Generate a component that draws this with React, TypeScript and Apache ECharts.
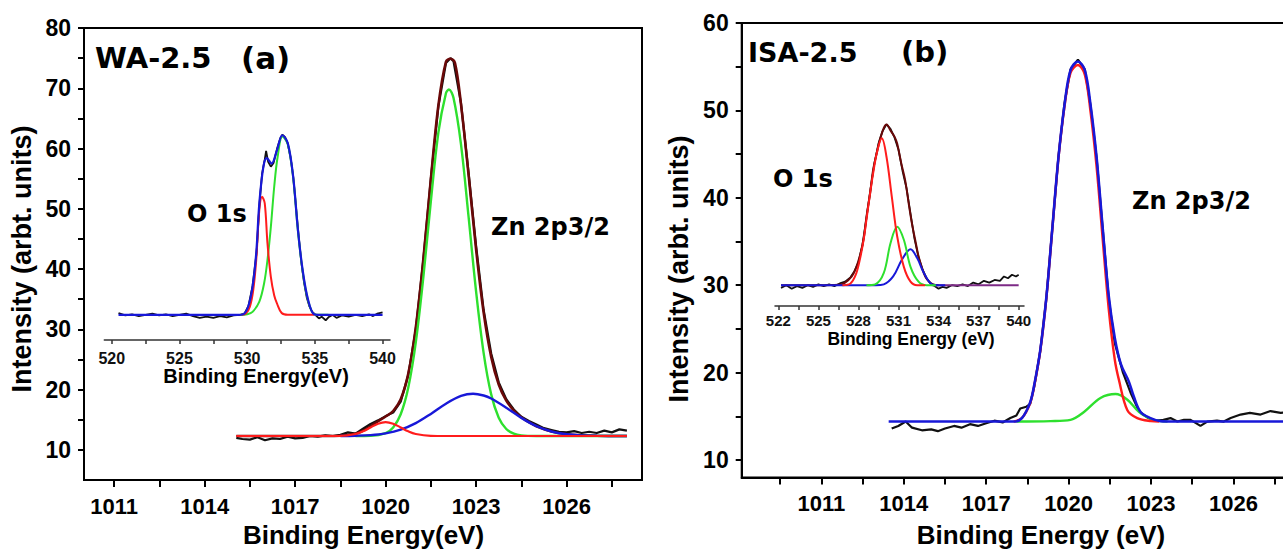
import React, { useEffect, useRef } from "react";
import * as echarts from "echarts";

// ---------- tick values ----------
const aTickX = [1011, 1012.5, 1014, 1015.5, 1017, 1018.5, 1020, 1021.5, 1023, 1024.5, 1026, 1027.5];
const aLabelX = [1011, 1014, 1017, 1020, 1023, 1026];
const aTickY = [10, 15, 20, 25, 30, 35, 40, 45, 50, 55, 60, 65, 70, 75, 80];
const aLabelY = [10, 20, 30, 40, 50, 60, 70, 80];
const bTickX = [1009.5, 1011, 1012.5, 1014, 1015.5, 1017, 1018.5, 1020, 1021.5, 1023, 1024.5, 1026, 1027.5, 1029];
const bLabelX = [1011, 1014, 1017, 1020, 1023, 1026];
const bTickY = [10, 15, 20, 25, 30, 35, 40, 45, 50, 55, 60];
const bLabelY = [10, 20, 30, 40, 50, 60];
const aInsetTick = [520, 522.5, 525, 527.5, 530, 532.5, 535, 537.5, 540];
const aInsetLabel = [520, 525, 530, 535, 540];
const bInsetTick = [522, 523.5, 525, 526.5, 528, 529.5, 531, 532.5, 534, 535.5, 537, 538.5, 540];
const bInsetLabel = [522, 525, 528, 531, 534, 537, 540];

// ---------- panel (a) main: Zn 2p3/2 ----------
const aData = [
  [1015.05, 12.0], [1015.25, 11.8], [1015.5, 11.7], [1015.75, 12.1], [1016.0, 11.6], [1016.25, 11.9], [1016.5, 11.8],
  [1016.75, 12.2], [1017.0, 11.9], [1017.25, 12.0], [1017.5, 12.3], [1017.75, 12.2], [1018.0, 12.4], [1018.25, 12.3],
  [1018.5, 12.5], [1018.75, 12.9], [1019.0, 12.7], [1019.25, 13.5], [1019.5, 14.3], [1019.75, 14.9], [1020.0, 15.6],
  [1020.25, 16.2], [1020.5, 18.0], [1020.75, 22.4], [1021.0, 30.0], [1021.25, 41.5], [1021.5, 55.0], [1021.75, 67.0],
  [1022.0, 74.2], [1022.15, 75.0], [1022.25, 74.5], [1022.5, 67.5], [1022.75, 56.0], [1023.0, 43.8], [1023.25, 33.2],
  [1023.5, 26.0], [1023.75, 21.2], [1024.0, 18.4], [1024.25, 16.7], [1024.5, 15.5], [1024.75, 14.8], [1025.0, 14.2],
  [1025.25, 13.6], [1025.5, 13.3], [1025.75, 13.0], [1026.0, 12.9], [1026.25, 13.1], [1026.5, 12.8], [1026.75, 13.0],
  [1027.0, 12.8], [1027.25, 13.2], [1027.5, 12.9], [1027.75, 13.4], [1028.0, 13.2],
];
const aEnvelope = [
  [1015.05, 12.3], [1017.0, 12.3], [1018.0, 12.3], [1018.5, 12.34], [1019.0, 12.68], [1019.25, 13.18], [1019.5, 13.91],
  [1019.75, 14.75], [1020.0, 15.53], [1020.25, 16.45], [1020.5, 18.38], [1020.75, 22.61], [1021.0, 30.32],
  [1021.25, 41.6], [1021.5, 54.97], [1021.75, 67.2], [1022.0, 74.4], [1022.15, 74.9], [1022.3, 74.2], [1022.5, 67.3],
  [1022.75, 55.65], [1023.0, 43.23], [1023.25, 32.78], [1023.5, 25.43], [1023.75, 20.85], [1024.0, 18.16],
  [1024.25, 16.53], [1024.5, 15.42], [1024.75, 14.59], [1025.0, 13.93], [1025.5, 13.05], [1026.0, 12.59],
  [1026.5, 12.4], [1027.0, 12.33], [1028.0, 12.3],
];
const aGreen = [
  [1019.0, 12.3], [1019.5, 12.34], [1020.0, 12.79], [1020.25, 13.72], [1020.5, 15.91], [1020.75, 20.31],
  [1021.0, 27.85], [1021.25, 38.63], [1021.5, 51.27], [1021.75, 62.67], [1022.0, 69.18], [1022.1, 69.8],
  [1022.25, 68.42], [1022.5, 60.66], [1022.75, 48.7], [1023.0, 36.25], [1023.25, 26.06], [1023.5, 19.21],
  [1023.75, 15.33], [1024.0, 13.46], [1024.25, 12.69], [1024.5, 12.41], [1025.0, 12.31], [1026.0, 12.3], [1028.0, 12.3],
];
const aBlue = [
  [1018.5, 12.31], [1019.0, 12.35], [1019.5, 12.45], [1020.0, 12.74], [1020.5, 13.35], [1021.0, 14.43],
  [1021.5, 15.97], [1022.0, 17.66], [1022.5, 18.94], [1022.9, 19.3], [1023.25, 19.02], [1023.5, 18.52],
  [1024.0, 17.0], [1024.5, 15.31], [1025.0, 13.93], [1025.5, 13.05], [1026.0, 12.59], [1026.5, 12.4],
  [1027.0, 12.33], [1028.0, 12.3],
];
const aRed = [
  [1015.05, 12.3], [1017.0, 12.3], [1018.5, 12.33], [1019.0, 12.64], [1019.25, 13.08], [1019.5, 13.72],
  [1019.75, 14.34], [1020.0, 14.6], [1020.25, 14.34], [1020.5, 13.72], [1020.75, 13.08], [1021.0, 12.64],
  [1021.5, 12.33], [1022.0, 12.3], [1025.0, 12.3], [1028.0, 12.3],
];

// ---------- panel (a) inset: O 1s ----------
const aInsetData = [
  [520.5, 32.7], [521.0, 32.3], [521.5, 32.5], [522.0, 32.2], [522.5, 32.4], [523.0, 32.6], [523.5, 32.3],
  [524.0, 32.5], [524.5, 32.2], [525.0, 32.4], [525.5, 32.6], [526.0, 32.2], [526.5, 31.9], [527.0, 32.1],
  [527.5, 31.9], [528.0, 32.2], [528.5, 32.0], [529.0, 32.3], [529.5, 32.4], [529.8, 32.6], [530.1, 33.9],
  [530.4, 37.2], [530.7, 42.8], [530.9, 50.5], [531.1, 55.8], [531.3, 58.2], [531.4, 59.6], [531.55, 57.8],
  [531.75, 57.0], [531.95, 57.6], [532.2, 59.9], [532.45, 61.7], [532.6, 62.3], [532.8, 61.9], [533.0, 60.8],
  [533.2, 58.6], [533.4, 55.4], [533.6, 50.5], [533.8, 45.6], [534.0, 41.2], [534.2, 37.8], [534.4, 35.3],
  [534.6, 33.8], [534.8, 32.9], [535.0, 32.5], [535.3, 31.8], [535.5, 32.1], [535.8, 31.5], [536.0, 32.0],
  [536.3, 32.4], [536.6, 31.9], [537.0, 32.3], [537.5, 32.1], [538.0, 32.4], [538.5, 32.2], [539.0, 32.5],
  [539.3, 32.2], [539.6, 32.6], [540.0, 32.8],
];
const aInsetBlue = [
  [520.5, 32.4], [524.0, 32.4], [528.5, 32.4], [529.3, 32.4], [529.7, 32.5], [530.07, 33.75], [530.4, 37.1],
  [530.67, 42.6], [530.9, 50.9], [531.2, 57.0], [531.45, 58.4], [531.8, 57.5], [532.2, 59.7], [532.6, 62.2],
  [533.0, 60.9], [533.4, 55.3], [533.75, 46.5], [534.1, 39.8], [534.5, 34.9], [534.95, 32.5], [535.4, 32.4],
  [537.0, 32.4], [540.0, 32.4],
];
const aInsetGreen = [
  [529.5, 32.4], [530.0, 32.5], [530.4, 32.9], [530.9, 34.6], [531.25, 37.6], [531.5, 41.5], [531.75, 47.0],
  [532.0, 53.7], [532.25, 58.6], [532.6, 62.0], [533.0, 60.7], [533.4, 55.1], [533.75, 46.3], [534.1, 39.6],
  [534.5, 34.8], [534.95, 32.5], [535.4, 32.4], [536.0, 32.4],
];
const aInsetRed = [
  [529.6, 32.4], [529.9, 32.6], [530.2, 33.75], [530.45, 36.5], [530.67, 41.5], [530.9, 49.8], [531.1, 52.0],
  [531.3, 50.9], [531.5, 44.3], [531.75, 38.7], [532.0, 35.6], [532.2, 34.3], [532.55, 32.7], [533.0, 32.4],
  [534.0, 32.4], [534.95, 32.4],
];

// ---------- panel (b) main: Zn 2p3/2 ----------
const bData = [
  [1013.56, 13.6], [1013.8, 13.9], [1014.07, 14.4], [1014.3, 13.7], [1014.66, 13.4], [1015.0, 13.5], [1015.24, 13.3],
  [1015.5, 13.6], [1015.83, 13.9], [1016.1, 13.7], [1016.41, 14.1], [1016.7, 13.9], [1017.0, 14.2], [1017.3, 14.5],
  [1017.6, 14.3], [1017.88, 14.8], [1018.1, 15.1], [1018.24, 15.9], [1018.46, 16.1], [1018.6, 16.4], [1018.75, 18.4],
  [1018.97, 22.5], [1019.19, 28.5], [1019.41, 36.6], [1019.63, 44.7], [1019.85, 50.8], [1020.07, 54.7],
  [1020.34, 55.8], [1020.59, 54.7], [1020.8, 50.5], [1021.02, 44.5], [1021.24, 36.5], [1021.46, 28.5],
  [1021.68, 23.4], [1021.98, 20.0], [1022.27, 17.6], [1022.56, 15.6], [1022.9, 14.8], [1023.2, 14.5],
  [1023.45, 14.6], [1023.71, 14.8], [1023.96, 14.4], [1024.2, 14.6], [1024.44, 14.6], [1024.8, 13.9],
  [1025.05, 14.4], [1025.4, 14.5], [1025.65, 14.4], [1025.9, 14.8], [1026.26, 15.2], [1026.6, 15.4],
  [1026.99, 15.2], [1027.35, 15.6], [1027.72, 15.4], [1028.0, 15.5],
];
const bBlue = [
  [1013.45, 14.4], [1016.0, 14.4], [1018.0, 14.4], [1018.3, 14.8], [1018.6, 16.6], [1018.75, 18.6],
  [1018.97, 22.6], [1019.19, 28.6], [1019.41, 36.6], [1019.63, 44.6], [1019.85, 50.6], [1020.07, 54.6],
  [1020.34, 55.6], [1020.59, 54.6], [1020.8, 50.6], [1021.02, 44.6], [1021.24, 36.6], [1021.46, 28.8],
  [1021.68, 24.0], [1021.9, 21.0], [1022.19, 19.0], [1022.38, 17.2], [1022.62, 15.5], [1022.98, 14.8],
  [1023.35, 14.45], [1023.8, 14.4], [1026.0, 14.4], [1028.0, 14.4],
];
const bRed = [
  [1018.0, 14.4], [1018.3, 14.8], [1018.6, 16.5], [1018.75, 18.5], [1018.97, 22.5], [1019.19, 28.5],
  [1019.41, 36.5], [1019.63, 44.5], [1019.85, 50.4], [1020.07, 54.3], [1020.34, 55.2], [1020.59, 54.1],
  [1020.8, 49.8], [1021.02, 43.5], [1021.24, 35.3], [1021.46, 27.3], [1021.68, 21.5], [1021.83, 19.2],
  [1022.14, 15.7], [1022.5, 14.8], [1023.0, 14.45], [1023.3, 14.4],
];
const bGreen = [
  [1018.1, 14.4], [1019.34, 14.45], [1020.07, 14.6], [1020.56, 15.5], [1021.16, 17.1], [1021.71, 17.55],
  [1022.14, 16.9], [1022.56, 15.5], [1022.98, 14.7], [1023.2, 14.5], [1023.6, 14.4],
];

// ---------- panel (b) inset: O 1s ----------
const bInsetData = [
  [522.2, 29.7], [522.6, 30.0], [523.0, 29.6], [523.4, 29.9], [523.8, 29.7], [524.2, 30.0], [524.6, 29.8],
  [525.0, 30.1], [525.4, 29.9], [525.8, 30.1], [526.2, 29.9], [526.6, 30.2], [527.0, 30.4], [527.4, 30.9],
  [527.7, 31.6], [528.0, 32.6], [528.3, 34.6], [528.6, 37.7], [528.9, 41.0], [529.2, 44.0], [529.5, 46.2],
  [529.8, 47.6], [530.1, 48.4], [530.4, 47.9], [530.7, 46.9], [531.0, 45.5], [531.3, 43.1], [531.6, 41.1],
  [531.9, 38.2], [532.2, 35.3], [532.5, 33.2], [532.8, 31.8], [533.1, 30.8], [533.4, 30.2], [533.7, 29.9],
  [534.0, 29.6], [534.3, 29.8], [534.6, 29.7], [535.0, 30.0], [535.4, 29.9], [535.8, 30.1], [536.2, 29.9],
  [536.6, 30.3], [537.0, 30.1], [537.4, 30.5], [537.8, 30.3], [538.2, 30.6], [538.6, 30.5], [538.9, 31.0],
  [539.2, 30.8], [539.5, 31.2], [539.8, 31.0], [540.0, 31.2],
];
const bInsetEnvelope = [
  [522.2, 30.0], [525.0, 30.0], [526.5, 30.05], [527.0, 30.3], [527.5, 31.0], [527.8, 31.9], [528.1, 33.3],
  [528.4, 35.4], [528.6, 37.8], [528.9, 40.8], [529.1, 43.2], [529.4, 45.3], [529.6, 46.6], [529.9, 48.0],
  [530.1, 48.4], [530.4, 47.7], [530.7, 47.0], [530.9, 46.2], [531.2, 44.0], [531.5, 42.0], [531.8, 39.0],
  [532.0, 37.1], [532.3, 34.8], [532.5, 33.3], [532.8, 31.8], [533.0, 31.0], [533.3, 30.4], [533.6, 30.1],
  [534.0, 30.0],
];
const bInsetRed = [
  [526.8, 30.0], [527.4, 30.2], [527.8, 31.2], [528.1, 32.9], [528.4, 35.3], [528.6, 37.5], [528.9, 40.8],
  [529.1, 42.8], [529.4, 45.3], [529.75, 46.8], [530.1, 44.7], [530.5, 40.1], [530.9, 35.6], [531.4, 32.1],
  [531.9, 30.4], [532.4, 30.0], [533.0, 30.0],
];
const bInsetGreen = [
  [528.6, 30.0], [529.25, 30.1], [529.9, 31.4], [530.4, 34.8], [530.9, 36.7], [531.4, 35.2], [531.9, 32.1],
  [532.5, 30.4], [533.1, 30.0], [533.8, 30.0],
];
const bInsetBlue = [
  [522.2, 30.0], [526.0, 30.0], [529.3, 30.0], [529.9, 30.1], [530.6, 31.0], [531.25, 32.9], [531.9, 34.1],
  [532.4, 33.1], [532.9, 31.4], [533.5, 30.1], [534.0, 30.0], [534.5, 30.0],
];
const bInsetBaseline = [
  [533.5, 30.0], [540.0, 30.0],
];

const C_BLACK = "#111111";
const C_BROWN = "#6a0808";
const C_RED = "#ff1c1c";
const C_GREEN = "#2ee02e";
const C_BLUE = "#1818d8";
const C_PURPLE = "#7d2a86";

const AXF = "'Liberation Sans', Arial, Helvetica, sans-serif";
const TTF = "'DejaVu Sans', 'Liberation Sans', sans-serif";

const plain = (v: number) => String(v);

function mainX(grid: number, min: number, max: number, ticks: number[], labels: number[]) {
  return {
    gridIndex: grid, type: "value", min, max,
    axisLine: { show: true, onZero: false, lineStyle: { color: "#000", width: 2 } },
    axisTick: { show: true, customValues: ticks, length: 7, lineStyle: { color: "#000", width: 2 } },
    axisLabel: { customValues: labels, formatter: plain, margin: 15, fontSize: 22, lineHeight: 22, fontWeight: "bold", fontFamily: AXF, color: "#000" },
    splitLine: { show: false },
  };
}
function mainY(grid: number, min: number, max: number, ticks: number[], labels: number[]) {
  return {
    gridIndex: grid, type: "value", min, max,
    axisLine: { show: true, onZero: false, lineStyle: { color: "#000", width: 2 } },
    axisTick: { show: true, customValues: ticks, length: 6, lineStyle: { color: "#000", width: 2 } },
    axisLabel: { customValues: labels, formatter: plain, margin: 13, fontSize: 23, fontWeight: "bold", fontFamily: AXF, color: "#000" },
    splitLine: { show: false },
  };
}
function insetX(grid: number, min: number, max: number, ticks: number[], labels: number[], fs: number, margin: number) {
  return {
    gridIndex: grid, type: "value", min, max,
    axisLine: { show: true, onZero: false, lineStyle: { color: "#333", width: 1.5 } },
    axisTick: { show: true, customValues: ticks, length: 4, lineStyle: { color: "#333", width: 1.5 } },
    axisLabel: { customValues: labels, formatter: plain, margin, fontSize: fs, fontWeight: "bold", fontFamily: AXF, color: "#111" },
    splitLine: { show: false },
  };
}
function line(name: string, xi: number, data: number[][], color: string, width: number, smooth: boolean) {
  return {
    name, type: "line", xAxisIndex: xi, yAxisIndex: xi, data,
    showSymbol: false, symbol: "none", smooth: smooth ? 0.35 : false,
    lineStyle: { color, width }, silent: true,
  };
}
function txt(text: string, x: number, y: number, size: number, family: string, align = "left", rotation = 0) {
  return {
    type: "text", x, y, rotation,
    style: { text, fill: "#000", fontSize: size, lineHeight: size, fontWeight: "bold", fontFamily: family, align, verticalAlign: "middle" },
  };
}

export default function App() {
  const ref = useRef<HTMLDivElement>(null);
  useEffect(() => {
    const chart = echarts.init(ref.current!, null, { renderer: "svg" });
    chart.setOption({
      animation: false,
      backgroundColor: "#fff",
      grid: [
        { left: 84, top: 28, width: 558, height: 452, show: true, borderColor: "#000", borderWidth: 2, outerBoundsMode: "none", containLabel: false },
        { left: 104.3, top: 28, width: 285.7, height: 312, outerBoundsMode: "none", containLabel: false },
        { left: 741.7, top: 23, width: 601.6, height: 454.5, show: true, borderColor: "#000", borderWidth: 2, outerBoundsMode: "none", containLabel: false },
        { left: 775, top: 23, width: 249, height: 283, outerBoundsMode: "none", containLabel: false },
      ],
      xAxis: [
        mainX(0, 1010, 1028.5, aTickX, aLabelX),
        insetX(1, 519.45, 540.55, aInsetTick, aInsetLabel, 16, 10),
        mainX(2, 1008.1, 1030, bTickX, bLabelX),
        insetX(3, 521.75, 540.4, bInsetTick, bInsetLabel, 15, 7),
      ],
      yAxis: [
        mainY(0, 5, 80, aTickY, aLabelY),
        { gridIndex: 1, type: "value", min: 28.23, max: 80, show: false },
        mainY(2, 8, 60, bTickY, bLabelY),
        { gridIndex: 3, type: "value", min: 27.62, max: 60, show: false },
      ],
      series: [
        line("a data", 0, aData, C_BLACK, 2.2, false),
        line("a envelope", 0, aEnvelope, C_BROWN, 2.6, true),
        line("a peak 2", 0, aGreen, C_GREEN, 2.4, true),
        line("a peak 3", 0, aBlue, C_BLUE, 2.4, true),
        line("a peak 1", 0, aRed, C_RED, 2.2, true),
        line("a O1s data", 1, aInsetData, C_BLACK, 1.8, false),
        line("a O1s peak 2", 1, aInsetGreen, C_GREEN, 2, true),
        line("a O1s peak 1", 1, aInsetRed, C_RED, 2, true),
        line("a O1s envelope", 1, aInsetBlue, C_BLUE, 2.2, true),
        line("b data", 2, bData, C_BLACK, 2.2, false),
        line("b peak 2", 2, bGreen, C_GREEN, 2.4, true),
        line("b peak 1", 2, bRed, C_RED, 2.4, true),
        line("b envelope", 2, bBlue, C_BLUE, 2.6, true),
        line("b O1s data", 3, bInsetData, C_BLACK, 1.8, false),
        line("b O1s baseline", 3, bInsetBaseline, C_PURPLE, 2, false),
        line("b O1s envelope", 3, bInsetEnvelope, C_BROWN, 2, true),
        line("b O1s peak 3", 3, bInsetBlue, C_BLUE, 2, true),
        line("b O1s peak 2", 3, bInsetGreen, C_GREEN, 2, true),
        line("b O1s peak 1", 3, bInsetRed, C_RED, 2, true),
      ],
      graphic: [
        txt("WA-2.5", 95, 58, 29, TTF),
        txt("(a)", 241, 58, 31, TTF),
        txt("O 1s", 187, 214, 24, TTF),
        txt("Zn 2p3/2", 491, 227, 24, TTF),
        txt("Intensity (arbt. units)", 22, 259, 27, AXF, "center", Math.PI / 2),
        txt("Binding Energy(eV)", 363.5, 535, 26, AXF, "center"),
        txt("Binding Energy(eV)", 256, 376, 20, AXF, "center"),
        txt("ISA-2.5", 748, 52, 27, TTF),
        txt("(b)", 901, 52, 29, TTF),
        txt("O 1s", 773, 179, 24, TTF),
        txt("Zn 2p3/2", 1132, 201, 24, TTF),
        txt("Intensity (arbt. units)", 679, 269, 27, AXF, "center", Math.PI / 2),
        txt("Binding Energy (eV)", 1041, 535, 26, AXF, "center"),
        txt("Binding Energy (eV)", 911, 339, 17.5, AXF, "center"),
      ],
    });
    return () => chart.dispose();
  }, []);
  return (
    <div
      ref={ref}
      style={{ position: "fixed", left: 0, top: 0, width: 1283, height: 549, background: "#fff" }}
    />
  );
}
